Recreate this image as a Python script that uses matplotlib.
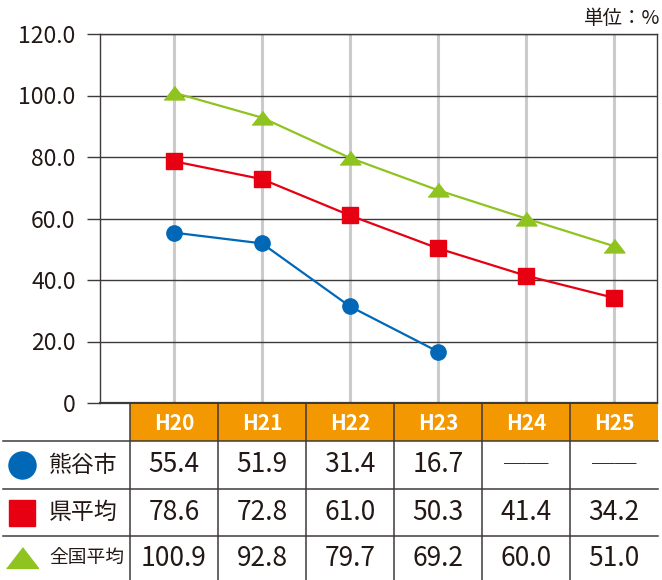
import numpy as np
import matplotlib
matplotlib.use('Agg')
import matplotlib.pyplot as plt

plt.rcParams['font.family'] = ['Noto Sans CJK JP', 'DejaVu Sans']

years = ['H20', 'H21', 'H22', 'H23', 'H24', 'H25']
kumagaya = [55.4, 51.9, 31.4, 16.7, None, None]
ken_avg = [78.6, 72.8, 61.0, 50.3, 41.4, 34.2]
zenkoku_avg = [100.9, 92.8, 79.7, 69.2, 60.0, 51.0]
series_names = ['熊谷市', '県平均', '全国平均']
yticks = [0, 20, 40, 60, 80, 100, 120]
ytick_labels = ['0', '20.0', '40.0', '60.0', '80.0', '100.0', '120.0']
unit_label = '単位：%'

blue = '#0068B7'
red = '#E60012'
green = '#8FC31F'
orange = '#F39800'
dark = '#3E3A39'
gray = '#CBCBCB'
txt = '#231815'

W, H = 662, 580
fig = plt.figure(figsize=(W / 100, H / 100), dpi=100)

# category i sits at pixel 174 + 88*i
px0, step = 174.0, 88.0
def to_i(px):
    return (px - px0) / step

ax = fig.add_axes([100 / W, (H - 403) / H, 557 / W, 369 / H])
ax.set_xlim(to_i(100), to_i(657))
ax.set_ylim(0, 120)

x = np.arange(len(years))
kum = np.array([np.nan if v is None else v for v in kumagaya])

tri = [(-1, -0.62), (1, -0.62), (0, 0.68)]
ax.plot(x, kum, color=blue, lw=1.6, marker='o', ms=11, zorder=5)
ax.plot(x, ken_avg, color=red, lw=1.6, marker='s', ms=11.5, zorder=5)
ax.plot(x, zenkoku_avg, color=green, lw=1.6, marker=tri, ms=15, zorder=5)

ax.set_xticks(x)
ax.tick_params(axis='x', length=0, labelbottom=False)
ax.xaxis.grid(True, color=gray, lw=2.2)
ax.set_yticks(yticks)
ax.set_yticklabels(ytick_labels)
ax.yaxis.grid(True, color=dark, lw=1.0)
ax.set_axisbelow(True)
ax.tick_params(axis='y', direction='out', length=9.5, width=1.0, color=dark,
               pad=8, labelsize=16.5, labelcolor=txt)
for s in ax.spines.values():
    s.set_color(dark)
    s.set_linewidth(1.0)
ax.spines['bottom'].set_linewidth(1.6)

fig.text(660 / W, 1 - 18 / H, unit_label, ha='right', va='center',
         fontsize=14, color=txt)

# table below the chart
tab = fig.add_axes([0, 0, 1, 177 / H])
tab.set_xlim(to_i(0), to_i(W))
tab.set_ylim(177, 0)
tab.axis('off')

rows = [1, 38, 86, 133, 181]
xl, xr = to_i(3), len(years) - 0.5
tab.add_patch(plt.Rectangle((-0.5, rows[0]), len(years), rows[1] - rows[0],
                            color=orange, lw=0, clip_on=False))
for i, yr in enumerate(years):
    tab.text(i, (rows[0] + rows[1]) / 2 + 1, yr, ha='center', va='center',
             color='white', fontsize=15, fontweight='bold')

for yy in rows[1:4]:
    tab.plot([xl, xr], [yy, yy], color=dark, lw=1.1, clip_on=False)
for xx in np.arange(-0.5, len(years) - 0.5, 1.0):
    tab.plot([xx, xx], [rows[0], 177], color=dark, lw=1.1, clip_on=False)

markers = [('o', blue, 19.5), ('s', red, 18.5), (tri, green, 23)]
label_sizes = [16.5, 16.5, 13.5]
table_vals = [kumagaya, ken_avg, zenkoku_avg]
for r, (name, (mk, col, ms), fs, vals) in enumerate(
        zip(series_names, markers, label_sizes, table_vals)):
    yc = (rows[r + 1] + rows[r + 2]) / 2
    if r == 2:
        yc = 155
    tab.plot([to_i(22)], [yc], marker=mk, color=col, ms=ms, ls='none',
             clip_on=False)
    tab.text(to_i(49), yc, name, ha='left', va='center', fontsize=fs,
             color=txt)
    for i, v in enumerate(vals):
        s = '──' if v is None else f'{v:.1f}'
        tab.text(i, yc, s, ha='center', va='center',
                 fontsize=16 if v is None else 19, color=txt)

fig.savefig('out.png', dpi=100)
